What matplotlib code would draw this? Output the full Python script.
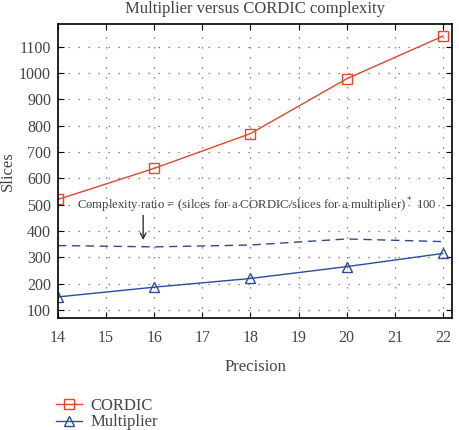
import matplotlib
matplotlib.use("Agg")
import matplotlib.pyplot as plt

precision = [14, 16, 18, 20, 22]
cordic = [520, 638, 770, 978, 1140]
multiplier = [150, 187, 220, 265, 315]
ratio = [345, 340, 347, 370, 360]

plt.rcParams["font.family"] = ["Liberation Serif", "DejaVu Serif"]
text_col = "#444444"

fig = plt.figure(figsize=(4.59, 4.30), dpi=100)
ax = fig.add_axes([58 / 459, 1 - 318 / 430, (452 - 58) / 459, (318 - 24) / 430])

ax.plot(precision, cordic, color="#e8452c", lw=1, marker="s", ms=6.5,
        mfc="none", mec="#e8452c", mew=1, label="CORDIC")
ax.plot(precision, multiplier, color="#2c4b9a", lw=1, marker="^", ms=7,
        mfc="none", mec="#2c4b9a", mew=1, label="Multiplier")
ax.plot(precision, ratio, color="#2c4a8a", lw=1, ls=(0, (6, 4)))

ax.set_xlim(14, 22.19)
ax.set_ylim(70, 1186)
ax.set_xticks(range(14, 23))
ax.set_yticks(range(100, 1101, 100))
ax.grid(True, ls=(0, (1, 7)), color="#666666", lw=0.9)
ax.tick_params(direction="in", top=True, right=True, colors="black",
               labelcolor=text_col, labelsize=11.5, length=4)
ax.tick_params(axis="x", pad=9)
ax.tick_params(axis="y", pad=5)
for s in ax.spines.values():
    s.set_linewidth(1.2)

ax.set_xlabel("Precision", color=text_col, fontsize=12, labelpad=9)
ax.set_ylabel("Slices", color=text_col, fontsize=12, labelpad=2)
ax.set_title("Multiplier versus CORDIC complexity", color=text_col, fontsize=12, pad=8)

ax.text(14.4, 500, "Complexity ratio = (silces for a CORDIC/slices for a multiplier)$^*$ 100",
        color=text_col, fontsize=9.2, va="center", ha="left")
ax.annotate("", xy=(15.77, 355), xytext=(15.77, 470),
            arrowprops=dict(arrowstyle="->", color="#333333", lw=1))

handles, labels = ax.get_legend_handles_labels()
fig.legend(handles, labels, loc="upper left", bbox_to_anchor=(49 / 459, 1 - 391 / 430),
           frameon=False, fontsize=12, labelcolor=text_col, handlelength=1.6,
           handletextpad=0.5, labelspacing=0.05, borderaxespad=0)

fig.savefig("out.png", dpi=100)
